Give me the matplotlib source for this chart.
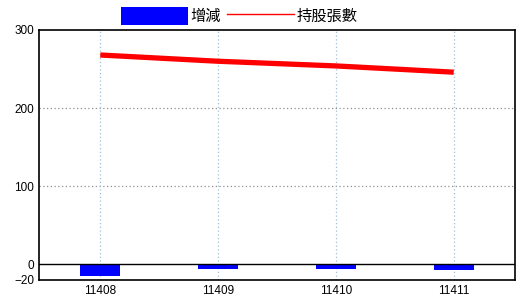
import numpy as np
import matplotlib
matplotlib.use("Agg")
import matplotlib.pyplot as plt
from matplotlib.patches import Patch
from matplotlib.lines import Line2D

plt.rcParams['font.family'] = ['Noto Sans CJK TC', 'DejaVu Sans']

# data
months = ['11408', '11409', '11410', '11411']
change = [-15, -5.5, -5.5, -7]          # 增減
shares = [268, 260, 254, 246]           # 持股張數

x = np.arange(len(months))

fig = plt.figure(figsize=(5.2, 3.0), dpi=100)
ax = fig.add_axes([39 / 520, 20 / 300, 476 / 520, 250 / 300])

ax.bar(x, change, width=0.34, color='#0000ff', zorder=2)
ax.plot(x, shares, color='#ff0000', linewidth=3.8, solid_capstyle='butt', zorder=3)
ax.axhline(0, color='black', linewidth=1, zorder=2)

ax.set_xlim(-0.52, 3.52)
ax.set_ylim(-20, 300)
ax.set_xticks(x)
ax.set_xticklabels(months)
ax.set_yticks([-20, 0, 100, 200, 300])

# dotted grid: gray horizontals, light blue verticals
for yv in [100, 200]:
    ax.axhline(yv, color='#909090', linestyle=(0, (1, 2)), linewidth=0.9, zorder=1)
for xv in x:
    ax.axvline(xv, color='#9ec0d8', linestyle=(0, (1, 2)), linewidth=0.9, zorder=1)

ax.tick_params(length=0, labelsize=8.5, pad=3.5)
for lab in ax.get_xticklabels() + ax.get_yticklabels():
    lab.set_fontfamily('Liberation Sans')
for s in ax.spines.values():
    s.set_linewidth(1.2)
    s.set_color('black')

handles = [Patch(facecolor='#0000ff', edgecolor='none', label='增減'),
           Line2D([0], [0], color='#ff0000', linewidth=1, label='持股張數')]
fig.legend(handles=handles, loc='center', bbox_to_anchor=(0.46, 0.947), ncol=2,
           frameon=False, fontsize=11, handlelength=4.4, handleheight=1.5,
           handletextpad=0.15, columnspacing=0.35, borderpad=0, borderaxespad=0)

fig.savefig('out.png', dpi=100)
